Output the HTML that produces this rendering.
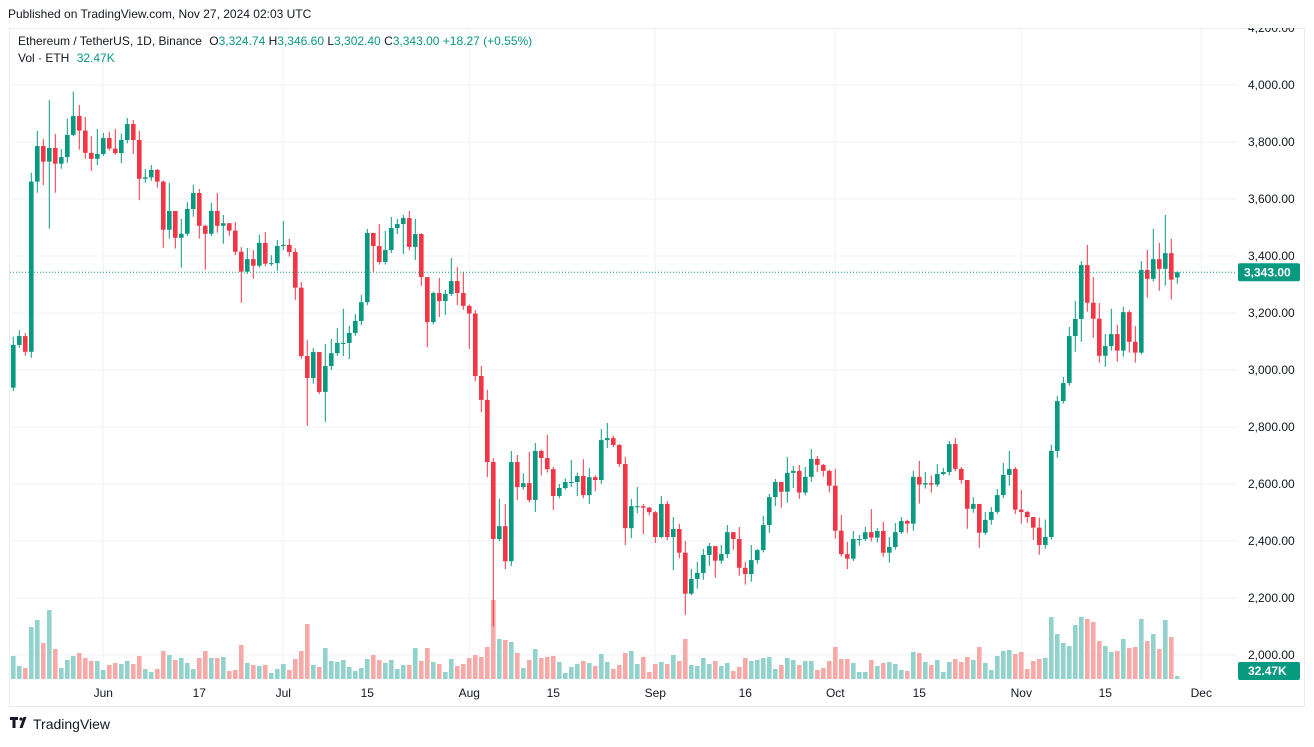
<!DOCTYPE html>
<html><head><meta charset="utf-8"><style>
html,body{margin:0;padding:0;background:#fff;}
body{width:1314px;height:742px;overflow:hidden;font-family:"Liberation Sans",sans-serif;}
svg text{font-family:"Liberation Sans",sans-serif;}
</style></head><body>
<svg id="chart" width="1314" height="742" viewBox="0 0 1314 742" xmlns="http://www.w3.org/2000/svg">
<defs><clipPath id="pane"><rect x="9" y="28" width="1297" height="680"/></clipPath></defs>
<text x="8" y="18" font-size="12" fill="#131722">Published on TradingView.com, Nov 27, 2024 02:03 UTC</text>
<rect x="9.5" y="28.5" width="1295" height="678" fill="none" stroke="#e9ebf1"/>
<g clip-path="url(#pane)">
<g id="grid"></g>
<g id="vol"></g>
<g id="candles"></g>
<g id="axes"></g>
</g>
<g font-size="12">
<text x="18" y="45" fill="#131722">Ethereum / TetherUS, 1D, Binance <tspan dx="4">O</tspan><tspan fill="#089981">3,324.74</tspan> H<tspan fill="#089981">3,346.60</tspan> L<tspan fill="#089981">3,302.40</tspan> C<tspan fill="#089981">3,343.00 +18.27 (+0.55%)</tspan></text>
<text x="18" y="62" fill="#131722">Vol · ETH <tspan dx="4" fill="#089981">32.47K</tspan></text>
</g>
<g>
<path d="M10 717h8v3h-2.5v8h-3v-8H10z M19.5 728l4-11h3l-4 11z" fill="#131722"/>
<circle cx="21" cy="719" r="1.6" fill="#131722"/>
<text x="33" y="729" font-size="14" fill="#131722">TradingView</text>
</g>
</svg>
<script>
const closes=[3088,3119,3064,3661,3786,3731,3779,3724,3747,3825,3891,3840,3762,3741,3758,3814,3777,3761,3807,3863,3807,3671,3676,3702,3661,3492,3558,3464,3478,3565,3621,3506,3478,3558,3506,3515,3489,3415,3345,3389,3366,3446,3373,3375,3435,3439,3414,3289,3049,2972,3063,2923,3014,3059,3095,3095,3130,3172,3238,3481,3435,3379,3421,3498,3512,3533,3432,3477,3326,3168,3270,3242,3267,3312,3270,3225,3198,2979,2895,2677,2407,2452,2329,2677,2589,2603,2544,2716,2691,2652,2558,2586,2607,2607,2628,2561,2624,2614,2754,2761,2737,2670,2445,2522,2522,2517,2501,2414,2530,2414,2442,2359,2215,2267,2288,2351,2382,2331,2354,2431,2407,2306,2284,2333,2368,2456,2554,2607,2573,2639,2646,2570,2625,2688,2667,2646,2594,2436,2354,2338,2407,2407,2431,2412,2435,2359,2379,2431,2470,2461,2625,2598,2603,2598,2635,2642,2740,2653,2614,2513,2530,2429,2474,2502,2561,2632,2653,2510,2502,2484,2447,2386,2414,2716,2891,2954,3119,3179,3368,3236,3180,3050,3084,3126,3068,3203,3099,3061,3351,3320,3389,3355,3410,3317,3343];
const highs=[3117,3140,3130,3692,3839,3810,3947,3828,3775,3882,3977,3930,3888,3821,3846,3832,3835,3846,3830,3884,3877,3839,3705,3719,3705,3665,3656,3558,3531,3589,3650,3635,3510,3586,3621,3544,3515,3519,3431,3428,3421,3474,3484,3403,3456,3523,3460,3427,3309,3105,3077,3063,3091,3109,3147,3215,3155,3196,3263,3495,3481,3512,3488,3537,3530,3544,3558,3530,3480,3326,3275,3323,3281,3393,3361,3344,3230,3210,3014,2930,2690,2547,2530,2716,2702,2638,2712,2744,2720,2772,2660,2600,2620,2684,2640,2687,2656,2630,2793,2814,2770,2740,2695,2547,2589,2530,2520,2505,2558,2540,2484,2460,2400,2302,2326,2372,2393,2382,2386,2456,2431,2449,2327,2386,2372,2488,2565,2618,2607,2695,2663,2667,2660,2723,2698,2670,2650,2653,2491,2397,2435,2421,2449,2512,2445,2467,2414,2463,2484,2475,2646,2681,2642,2630,2670,2656,2751,2761,2660,2614,2554,2530,2502,2519,2582,2674,2716,2660,2579,2505,2484,2482,2475,2738,2909,2975,3151,3242,3382,3439,3326,3235,3126,3215,3158,3221,3210,3154,3382,3421,3495,3446,3544,3460,3346.6];
const lows=[2926,3078,3050,3043,3622,3649,3496,3622,3706,3727,3820,3773,3741,3699,3719,3751,3770,3755,3726,3795,3758,3596,3657,3664,3640,3429,3461,3426,3359,3470,3538,3461,3352,3470,3482,3443,3471,3403,3236,3337,3320,3359,3365,3365,3348,3421,3398,3246,3040,2804,2952,2916,2818,3000,3050,3049,3038,3120,3158,3228,3344,3370,3370,3410,3477,3407,3420,3386,3295,3080,3160,3186,3193,3260,3228,3211,3074,2961,2852,2624,2101,2400,2301,2312,2544,2580,2535,2502,2630,2640,2509,2550,2580,2590,2558,2550,2530,2575,2600,2726,2730,2660,2386,2410,2498,2424,2490,2393,2410,2403,2298,2340,2141,2210,2233,2264,2313,2271,2320,2340,2369,2278,2247,2257,2320,2360,2429,2523,2517,2534,2586,2548,2560,2608,2642,2626,2570,2408,2345,2301,2330,2384,2400,2398,2395,2345,2324,2370,2425,2429,2436,2531,2584,2570,2590,2630,2630,2645,2601,2443,2499,2376,2422,2457,2495,2550,2594,2495,2461,2464,2404,2352,2373,2405,2692,2882,2945,3064,3099,3205,3113,3026,3011,3068,3029,3047,3061,3026,3055,3254,3310,3278,3296,3247,3302.4];
const firstOpen=2938;
const lastOpen=3324.74;
const volumes=[69,39,33,156,177,108,207,90,33,57,69,78,63,54,54,27,42,48,45,54,45,69,30,21,30,84,72,57,63,48,30,63,84,63,63,66,24,27,102,48,42,39,42,18,30,45,27,60,84,165,42,36,93,54,51,57,36,24,33,60,72,57,48,57,30,42,42,93,54,93,51,45,21,60,39,45,63,72,66,96,237,120,117,111,78,33,57,90,63,66,69,51,18,36,45,54,48,39,75,51,30,42,78,84,45,66,21,45,51,45,72,54,120,42,39,63,45,54,39,48,24,36,63,54,57,63,66,30,42,63,57,42,54,54,27,33,54,96,60,60,48,21,21,57,39,48,51,45,27,24,81,78,51,42,57,21,51,60,51,66,57,96,48,27,69,84,87,75,81,30,54,60,63,186,135,108,99,162,186,180,171,114,99,81,84,120,93,96,180,114,135,90,177,126,9];
const priceTicks=[2000,2200,2400,2600,2800,3000,3200,3400,3600,3800,4000,4200];
const priceTickLabels=["2,000.00","2,200.00","2,400.00","2,600.00","2,800.00","3,000.00","3,200.00","3,400.00","3,600.00","3,800.00","4,000.00","4,200.00"];
const timeTickIdx=[15,31,45,59,76,90,107,122,137,151,168,182,198];
const timeTickLabels=["Jun","17","Jul","15","Aug","15","Sep","16","Oct","15","Nov","15","Dec"];
const timeGridIdx=[15,45,76,107,137,168,198];
const lastPrice=3343;
const lastVolLabel="32.47K";

const NS="http://www.w3.org/2000/svg";
const yP=p=>85+(4000-p)*0.285;
const xI=i=>13.3+i*6;
const yV=v=>679-v/3;
function mk(tag,attrs,parent){const e=document.createElementNS(NS,tag);for(const k in attrs)e.setAttribute(k,attrs[k]);parent.appendChild(e);return e;}
const grid=document.getElementById('grid'),vol=document.getElementById('vol'),cg=document.getElementById('candles'),ax=document.getElementById('axes');
priceTicks.forEach((p,k)=>{
  const l=mk('line',{x1:10,x2:1237,y1:yP(p),y2:yP(p),stroke:'#f0f3fa'},grid);
  
  
  const t=mk('text',{x:1248,y:yP(p)+4,'font-size':12,fill:'#131722'},ax);
  t.textContent=priceTickLabels[k];
  
  
});
timeGridIdx.forEach(i=>{
  const l=mk('line',{x1:xI(i),x2:xI(i),y1:29,y2:680,stroke:'#f0f3fa'},grid);
  
  
});
timeTickIdx.forEach((i,k)=>{
  const t=mk('text',{x:xI(i),y:697,'font-size':12,fill:'#131722','text-anchor':'middle'},ax);
  t.textContent=timeTickLabels[k];
  
  
});
closes.forEach((c,i)=>{
  const o=i===0?firstOpen:(i===closes.length-1?lastOpen:closes[i-1]);
  const up=c>=o;
  const col=up?'#089981':'#f23645';
  const v=mk('rect',{x:xI(i)-2.3,y:yV(volumes[i]),width:4.6,height:679-yV(volumes[i]),fill:up?'#92d2cc':'#f7a9a7'},vol);
  
  
  const w=mk('line',{x1:xI(i),x2:xI(i),y1:yP(highs[i]),y2:yP(lows[i]),stroke:col,'stroke-width':1},cg);
  
  
  const top=yP(Math.max(o,c)),bot=yP(Math.min(o,c));
  const b=mk('rect',{x:xI(i)-2.3,y:top,width:4.6,height:Math.max(1,bot-top),fill:col},cg);
  
  
});
const pl=mk('line',{x1:10,x2:1237,y1:yP(lastPrice),y2:yP(lastPrice),stroke:'#089981','stroke-dasharray':'1 2'},ax);


const pb=mk('rect',{x:1238,y:yP(lastPrice)-9,width:62,height:18,rx:2,fill:'#089981'},ax);


const pt=mk('text',{x:1244,y:yP(lastPrice)+4.5,'font-size':12,'font-weight':'bold',fill:'#fff'},ax);
pt.textContent="3,343.00";


const vb=mk('rect',{x:1238,y:662,width:62,height:18,rx:2,fill:'#089981'},ax);


const vt=mk('text',{x:1248,y:675,'font-size':12,'font-weight':'bold',fill:'#fff'},ax);
vt.textContent=lastVolLabel;


</script>
</body></html>
